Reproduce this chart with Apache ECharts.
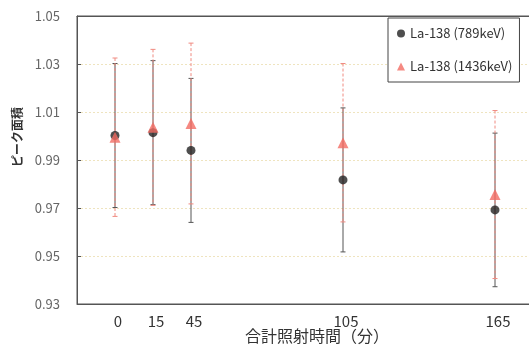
<!DOCTYPE html>
<html><head><meta charset="utf-8">
<script src="https://cdn.jsdelivr.net/npm/echarts@6/dist/echarts.min.js"></script>
<style>html,body{margin:0;padding:0;background:#fff}#c{width:529px;height:352px}</style>
</head><body><div id="c"></div>
<script>
// x slots (category axis); only sampling times are labelled
const slots = ['', '0', '15', '45', '', '', '', '105', '', '', '', '165', ''];
const times = ['0', '15', '45', '105', '165'];
// La-138 (789keV)
const peak789 = [1.0002, 1.0014, 0.9940, 0.9817, 0.9692];
const err789  = [0.0300, 0.0300, 0.0300, 0.0300, 0.0320];
// La-138 (1436keV)
const peak1436 = [0.9995, 1.0036, 1.0052, 0.9972, 0.9756];
const err1436  = [0.0330, 0.0325, 0.0335, 0.0330, 0.0350];
const yMin = 0.93, yMax = 1.05, yStep = 0.02;

const idx = times.map(t => slots.indexOf(t));
const pts = (vals) => vals.map((v, i) => [idx[i], v]);
const errs = (vals, e) => vals.map((v, i) => [idx[i], v - e[i], v + e[i]]);

function errRender(color, dashed) {
  return function (params, api) {
    const x = api.value(0), lo = api.value(1), hi = api.value(2);
    const pHi = api.coord([x, hi]), pLo = api.coord([x, lo]);
    const w = 2.5;
    return {
      type: 'group', children: [
        { type: 'line', shape: { x1: pHi[0], y1: pHi[1], x2: pLo[0], y2: pLo[1] },
          style: { stroke: color, lineWidth: 1, lineDash: dashed ? [3, 2] : null } },
        { type: 'line', shape: { x1: pHi[0] - w, y1: pHi[1], x2: pHi[0] + w, y2: pHi[1] },
          style: { stroke: color, lineWidth: 1 } },
        { type: 'line', shape: { x1: pLo[0] - w, y1: pLo[1], x2: pLo[0] + w, y2: pLo[1] },
          style: { stroke: color, lineWidth: 1 } }
      ]
    };
  };
}

const chart = echarts.init(document.getElementById('c'), null, { renderer: 'canvas' });
chart.setOption({
  animation: false,
  backgroundColor: '#fff',
  textStyle: { fontFamily: '"Noto Sans CJK JP", "Noto Sans", sans-serif' },
  grid: { left: 77, top: 16, width: 456, bottom: 48, show: true, borderColor: '#555', borderWidth: 1,
          outerBoundsMode: 'none', containLabel: false },
  xAxis: [{
    type: 'category', data: slots, boundaryGap: false, z: 5,
    axisLine: { lineStyle: { color: '#555' } },
    axisTick: { show: false },
    axisLabel: { interval: 0, fontSize: 15, color: '#333', margin: 10, padding: [0, 0, 0, 6] },
    splitLine: { show: false }
  }, {
    type: 'category', data: slots, boundaryGap: false, position: 'top', z: 5,
    axisLine: { show: true, onZero: false, lineStyle: { color: '#555' } },
    axisTick: { show: false }, axisLabel: { show: false }, splitLine: { show: false }
  }],
  yAxis: {
    type: 'value', min: yMin, max: yMax, interval: yStep,
    axisLine: { show: true, lineStyle: { color: '#555' } },
    axisTick: { show: true, inside: true, length: 4, lineStyle: { color: '#555' } },
    axisLabel: { fontSize: 13, color: '#666', margin: 17, formatter: v => v.toFixed(2) },
    splitLine: { show: true, showMinLine: false, showMaxLine: false, lineStyle: { color: '#efe4bf', type: [2, 2] } }
  },
  legend: {
    orient: 'vertical', left: 388, top: 18,
    backgroundColor: '#fff', borderColor: '#444', borderWidth: 1,
    padding: [9, 7, 9, 9], itemGap: 20, itemWidth: 8, itemHeight: 8,
    textStyle: { fontSize: 13, color: '#333' },
    data: [{ name: 'La-138 (789keV)', icon: 'circle' }, { name: 'La-138 (1436keV)', icon: 'triangle' }]
  },
  graphic: [
    { type: 'text', x: 17, y: 137, rotation: Math.PI / 2,
      style: { text: 'ピーク面積', font: 'bold 12px "Noto Sans CJK JP"', fill: '#333', align: 'center', verticalAlign: 'middle' } },
    { type: 'text', x: 317, y: 336,
      style: { text: '合計照射時間（分）', font: '16px "Noto Sans CJK JP"', fill: '#333', align: 'center', verticalAlign: 'middle' } }
  ],
  series: [
    { type: 'custom', name: 'err789', data: errs(peak789, err789), renderItem: errRender('#555', false),
      encode: { x: 0, y: [1, 2] }, z: 2, silent: true },
    { type: 'custom', name: 'err1436', data: errs(peak1436, err1436), renderItem: errRender('#f08a80', true),
      encode: { x: 0, y: [1, 2] }, z: 3, silent: true },
    { type: 'scatter', name: 'La-138 (789keV)', data: pts(peak789), symbol: 'circle', symbolSize: 9,
      itemStyle: { color: '#222' }, z: 4 },
    { type: 'scatter', name: 'La-138 (1436keV)', data: pts(peak1436), symbol: 'triangle', symbolSize: 11,
      itemStyle: { color: '#f26b63' }, z: 5 }
  ]
});
</script></body></html>
